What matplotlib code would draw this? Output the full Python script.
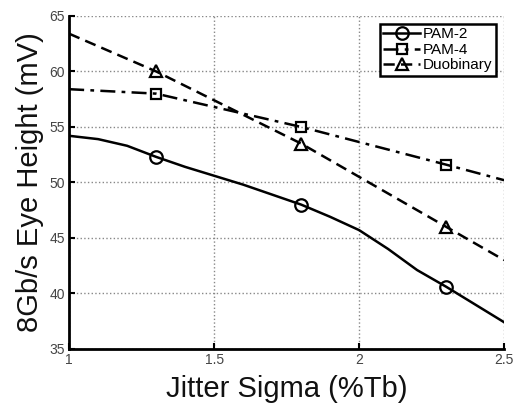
import matplotlib.pyplot as plt

plt.rcParams['font.family'] = ['Liberation Sans', 'DejaVu Sans']

# PAM-2 is a finely sampled curve; markers only on the 1.3 / 1.8 / 2.3 samples
pam2_x = [1.0, 1.1, 1.2, 1.3, 1.4, 1.5, 1.6, 1.7, 1.8, 1.9, 2.0, 2.1, 2.2, 2.3, 2.4, 2.5]
pam2_y = [54.2, 53.9, 53.3, 52.3, 51.4, 50.6, 49.8, 48.9, 48.0, 46.9, 45.7, 44.0, 42.1, 40.6, 39.0, 37.4]
pam2_marks = [3, 8, 13]

pam4_x = [1.0, 1.3, 1.8, 2.3, 2.5]
pam4_y = [58.4, 58.0, 55.0, 51.6, 50.2]

duo_x = [1.0, 1.3, 1.8, 2.3, 2.5]
duo_y = [63.4, 60.0, 53.5, 46.0, 43.0]
mid_marks = [1, 2, 3]

fig = plt.figure(figsize=(5.16, 4.09), dpi=100)
ax = fig.add_axes([0.134, 0.147, 0.843, 0.814])

ax.plot(pam2_x, pam2_y, '-', color='black', lw=1.8, marker='o', ms=9,
        mfc='none', mew=1.6, markevery=pam2_marks, label='PAM-2')
ax.plot(pam4_x, pam4_y, color='black', lw=1.8, ls=(0, (6, 2.5, 1.5, 2.5)),
        marker='s', ms=7, mfc='none', mew=1.6, markevery=mid_marks, label='PAM-4')
ax.plot(duo_x, duo_y, color='black', lw=1.8, ls=(0, (4.5, 2.5)),
        marker='^', ms=9, mfc='none', mew=1.6, markevery=mid_marks, label='Duobinary')

ax.set_xlim(1, 2.5)
ax.set_ylim(35, 65)
ax.set_xticks([1, 1.5, 2, 2.5])
ax.set_xticklabels(['1', '1.5', '2', '2.5'])
ax.set_yticks([35, 40, 45, 50, 55, 60, 65])

ax.grid(True, linestyle=':', color='#888888', lw=1)
ax.spines['top'].set_visible(False)
ax.spines['right'].set_visible(False)
ax.spines['left'].set_linewidth(2)
ax.spines['bottom'].set_linewidth(2)
ax.tick_params(direction='in', length=4, width=1.5, labelsize=10,
               labelcolor='#444444', pad=3)

ax.set_xlabel('Jitter Sigma (%Tb)', fontsize=21, labelpad=6, color='#111111')
ax.set_ylabel('8Gb/s Eye Height (mV)', fontsize=21, labelpad=4, color='#111111')

leg = ax.legend(loc='upper right', fontsize=11, frameon=True, fancybox=False,
                handlelength=2.4, borderpad=0.25, labelspacing=0.1,
                handletextpad=0.2, borderaxespad=0.5)
leg.get_frame().set_edgecolor('black')
leg.get_frame().set_linewidth(1.8)
leg.get_frame().set_alpha(1)

fig.savefig('out.png', dpi=100)
